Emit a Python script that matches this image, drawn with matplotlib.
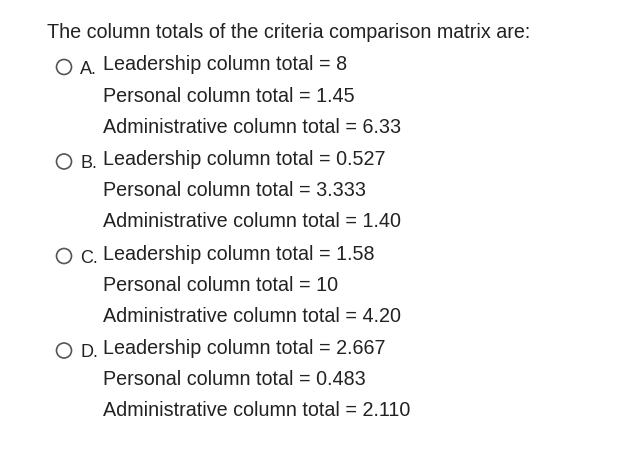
import matplotlib.pyplot as plt
from matplotlib.patches import Circle

plt.rcParams['font.family'] = ['Liberation Sans', 'DejaVu Sans']

question = "The column totals of the criteria comparison matrix are:"
letters = ["A.", "B.", "C.", "D."]
lines = [
    ["Leadership column total = 8", "Personal column total = 1.45",
     "Administrative column total = 6.33"],
    ["Leadership column total = 0.527", "Personal column total = 3.333",
     "Administrative column total = 1.40"],
    ["Leadership column total = 1.58", "Personal column total = 10",
     "Administrative column total = 4.20"],
    ["Leadership column total = 2.667", "Personal column total = 0.483",
     "Administrative column total = 2.110"],
]

fig = plt.figure(figsize=(6.27, 4.65), dpi=100)
ax = fig.add_axes([0, 0, 1, 1])
ax.set_xlim(0, 627)
ax.set_ylim(465, 0)
ax.axis('off')

fs = 14.2
color = '#222222'
ax.text(47, 33, question, fontsize=fs, color=color, va='center')

y = 65
for letter, group in zip(letters, lines):
    ax.add_patch(Circle((64, y + 2), 7.5, fill=False, edgecolor='#555555', lw=1.2))
    ax.text(80, y + 4, letter, fontsize=13, color=color, va='center')
    for i, line in enumerate(group):
        ax.text(103, y + i * 31, line, fontsize=fs, color=color, va='center')
    y += 94.5

fig.savefig('out.png', dpi=100)
